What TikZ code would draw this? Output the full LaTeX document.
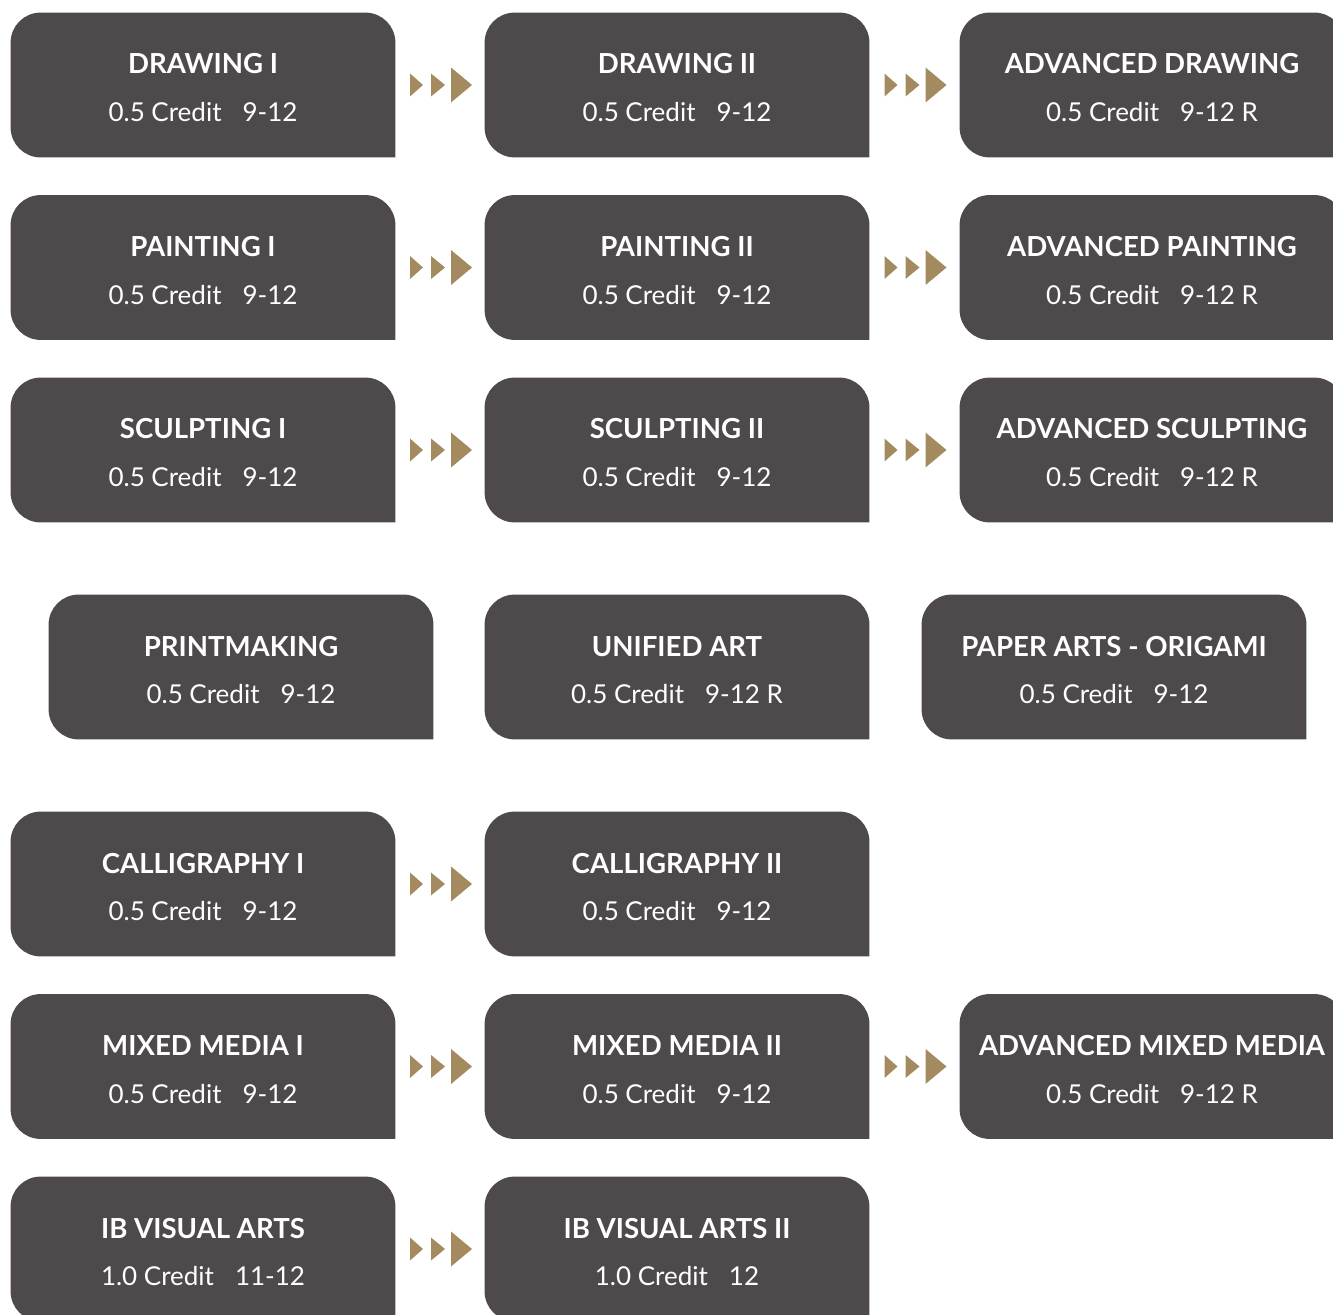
\documentclass[tikz,border=0pt]{standalone}
\usepackage{fontspec}
\setmainfont{Lato}
\usetikzlibrary{calc}
\definecolor{boxc}{HTML}{4E4A4B}
\definecolor{arrc}{HTML}{A38A5F}
\tikzset{
 course/.style={rectangle, inner sep=0pt, minimum width=192pt, minimum height=72pt},
 ctitle/.style={anchor=base, text=white, font=\fontsize{13.8}{16}\selectfont\bfseries, inner sep=0pt},
 csub/.style={anchor=base, text=white, font=\fontsize{13}{16}\selectfont, inner sep=0pt},
 boxfill/.style={fill=boxc},
 chev/.style={fill=arrc}
}
\newcommand\cgap{\hspace{10.5pt}}
\newcommand\coursebox[5]{%
 \node[course] (#1) at (#2+192,#3+72) {};
 \fill[boxfill] (#1.south east) -- ([xshift=15pt]#1.south west)
   arc[start angle=270,end angle=180,radius=15pt] -- ([yshift=-15pt]#1.north west)
   arc[start angle=180,end angle=90,radius=15pt] -- ([xshift=-15pt]#1.north east)
   arc[start angle=90,end angle=0,radius=15pt] -- cycle;
 \node[ctitle] (#1-t) at ([yshift=5.5pt]#1.center) {#4};
 \node[csub] (#1-s) at ([yshift=-18.3pt]#1.center) {#5};
}
\newcommand\chevrons[2]{%
 \path (#1.east) -- (#2.west) coordinate[pos=0.5] (#1-#2);
 \fill[chev] ($(#1-#2)+(-30,-11.5)$) -- ++(13,11.5) -- ++(-13,11.5) -- cycle;
 \fill[chev] ($(#1-#2)+(-9,-11.5)$) -- ++(14,11.5) -- ++(-14,11.5) -- cycle;
 \fill[chev] ($(#1-#2)+(11,-17.5)$) -- ++(21,17.5) -- ++(-21,17.5) -- cycle;
}
\begin{document}
\begin{tikzpicture}[x=0.5pt,y=-0.5pt]
\useasboundingbox (0,0) rectangle (1333,1315);
\clip (0,0) rectangle (1333,1315);
% row 1
\coursebox{d1}{11}{13}{DRAWING I}{0.5 Credit\cgap 9-12}
\coursebox{d2}{485}{13}{DRAWING II}{0.5 Credit\cgap 9-12}
\coursebox{d3}{960}{13}{ADVANCED DRAWING}{0.5 Credit\cgap 9-12 R}
% row 2
\coursebox{p1}{11}{195.5}{PAINTING I}{0.5 Credit\cgap 9-12}
\coursebox{p2}{485}{195.5}{PAINTING II}{0.5 Credit\cgap 9-12}
\coursebox{p3}{960}{195.5}{ADVANCED PAINTING}{0.5 Credit\cgap 9-12 R}
% row 3
\coursebox{s1}{11}{378}{SCULPTING I}{0.5 Credit\cgap 9-12}
\coursebox{s2}{485}{378}{SCULPTING II}{0.5 Credit\cgap 9-12}
\coursebox{s3}{960}{378}{ADVANCED SCULPTING}{0.5 Credit\cgap 9-12 R}
% row 4
\coursebox{pm}{49}{595}{PRINTMAKING}{0.5 Credit\cgap 9-12}
\coursebox{ua}{485}{595}{UNIFIED ART}{0.5 Credit\cgap 9-12 R}
\coursebox{pa}{922}{595}{PAPER ARTS - ORIGAMI}{0.5 Credit\cgap 9-12}
% row 5
\coursebox{c1}{11}{812}{CALLIGRAPHY I}{0.5 Credit\cgap 9-12}
\coursebox{c2}{485}{812}{CALLIGRAPHY II}{0.5 Credit\cgap 9-12}
% row 6
\coursebox{m1}{11}{994.5}{MIXED MEDIA I}{0.5 Credit\cgap 9-12}
\coursebox{m2}{485}{994.5}{MIXED MEDIA II}{0.5 Credit\cgap 9-12}
\coursebox{m3}{960}{994.5}{ADVANCED MIXED MEDIA}{0.5 Credit\cgap 9-12 R}
% row 7
\coursebox{ib1}{11}{1177}{IB VISUAL ARTS}{1.0 Credit\cgap 11-12}
\coursebox{ib2}{485}{1177}{IB VISUAL ARTS II}{1.0 Credit\cgap 12}
% connectors
\chevrons{d1}{d2}
\chevrons{d2}{d3}
\chevrons{p1}{p2}
\chevrons{p2}{p3}
\chevrons{s1}{s2}
\chevrons{s2}{s3}
\chevrons{c1}{c2}
\chevrons{m1}{m2}
\chevrons{m2}{m3}
\chevrons{ib1}{ib2}
\end{tikzpicture}
\end{document}
